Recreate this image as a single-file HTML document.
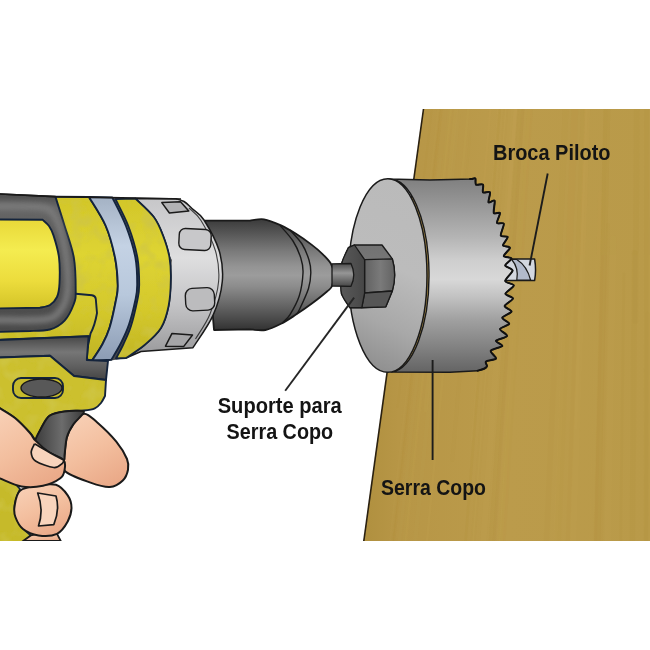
<!DOCTYPE html>
<html lang="pt"><head><meta charset="utf-8"><title>Serra Copo</title>
<style>html,body{margin:0;padding:0;background:#fff;width:650px;height:650px;overflow:hidden}svg{display:block}</style></head>
<body>
<svg width="650" height="650" viewBox="0 0 650 650">
<defs>
<linearGradient id="wood" x1="0" y1="0" x2="1" y2="0">
 <stop offset="0" stop-color="#b0903f"/><stop offset="0.12" stop-color="#b79646"/><stop offset="0.5" stop-color="#bb9b4b"/><stop offset="1" stop-color="#b99a49"/>
</linearGradient>
<linearGradient id="cyl" x1="0" y1="179" x2="0" y2="372" gradientUnits="userSpaceOnUse">
 <stop offset="0" stop-color="#808080"/><stop offset="0.14" stop-color="#989898"/><stop offset="0.3" stop-color="#b4b4b4"/><stop offset="0.42" stop-color="#cecece"/><stop offset="0.52" stop-color="#d8d8d8"/><stop offset="0.61" stop-color="#c2c2c2"/><stop offset="0.73" stop-color="#a0a0a0"/><stop offset="0.87" stop-color="#828282"/><stop offset="1" stop-color="#646464"/>
</linearGradient>
<linearGradient id="face" x1="430" y1="190" x2="350" y2="360" gradientUnits="userSpaceOnUse">
 <stop offset="0" stop-color="#bababa"/><stop offset="0.45" stop-color="#bcbcbc"/><stop offset="0.75" stop-color="#a8a8a8"/><stop offset="1" stop-color="#8e8e8e"/>
</linearGradient>
<linearGradient id="chuck" x1="0" y1="220" x2="0" y2="331" gradientUnits="userSpaceOnUse">
 <stop offset="0" stop-color="#3c3c3c"/><stop offset="0.12" stop-color="#565656"/><stop offset="0.28" stop-color="#7a7a7a"/><stop offset="0.42" stop-color="#949494"/><stop offset="0.5" stop-color="#9c9c9c"/><stop offset="0.6" stop-color="#8c8c8c"/><stop offset="0.75" stop-color="#6a6a6a"/><stop offset="0.9" stop-color="#484848"/><stop offset="1" stop-color="#303030"/>
</linearGradient>
<linearGradient id="shaft" x1="0" y1="263" x2="0" y2="287" gradientUnits="userSpaceOnUse">
 <stop offset="0" stop-color="#4a4a4a"/><stop offset="0.42" stop-color="#969696"/><stop offset="1" stop-color="#444"/>
</linearGradient>
<linearGradient id="collar" x1="0" y1="197" x2="0" y2="350" gradientUnits="userSpaceOnUse">
 <stop offset="0" stop-color="#c6c6c8"/><stop offset="0.4" stop-color="#dededf"/><stop offset="0.7" stop-color="#c4c4c6"/><stop offset="1" stop-color="#9e9ea0"/>
</linearGradient>
<linearGradient id="band" x1="0" y1="197" x2="0" y2="360" gradientUnits="userSpaceOnUse">
 <stop offset="0" stop-color="#a4b2c4"/><stop offset="0.3" stop-color="#c4d2e4"/><stop offset="0.6" stop-color="#b8c8dc"/><stop offset="1" stop-color="#8c9cb4"/>
</linearGradient>
<linearGradient id="ypanel" x1="0" y1="219" x2="0" y2="308" gradientUnits="userSpaceOnUse">
 <stop offset="0" stop-color="#e8d838"/><stop offset="0.35" stop-color="#f4ec50"/><stop offset="0.7" stop-color="#ecdc3c"/><stop offset="1" stop-color="#d4c428"/>
</linearGradient>
<filter id="mott" x="0" y="0" width="100%" height="100%"><feTurbulence type="fractalNoise" baseFrequency="0.07" numOctaves="2" seed="4" result="n"/><feColorMatrix in="n" type="matrix" values="0 0 0 0 0.62  0 0 0 0 0.56  0 0 0 0 0.06  0 0 0 2.2 -1.0" result="d"/><feComposite in="d" in2="SourceGraphic" operator="in" result="dd"/><feMerge><feMergeNode in="SourceGraphic"/><feMergeNode in="dd"/></feMerge></filter>
<linearGradient id="yband" x1="0" y1="197" x2="0" y2="360" gradientUnits="userSpaceOnUse">
 <stop offset="0" stop-color="#d2c62a"/><stop offset="0.35" stop-color="#ded433"/><stop offset="0.7" stop-color="#d4c82c"/><stop offset="1" stop-color="#c0b424"/>
</linearGradient>
<linearGradient id="frame" x1="0" y1="194" x2="0" y2="332" gradientUnits="userSpaceOnUse">
 <stop offset="0" stop-color="#4c4c4c"/><stop offset="0.1" stop-color="#686868"/><stop offset="0.3" stop-color="#5a5a5a"/><stop offset="1" stop-color="#4a4a4a"/>
</linearGradient>
<linearGradient id="dgray" x1="0" y1="337" x2="0" y2="380" gradientUnits="userSpaceOnUse">
 <stop offset="0" stop-color="#484848"/><stop offset="0.35" stop-color="#767676"/><stop offset="0.7" stop-color="#5e5e5e"/><stop offset="1" stop-color="#444"/>
</linearGradient>
<linearGradient id="trig" x1="35" y1="0" x2="84" y2="0" gradientUnits="userSpaceOnUse">
 <stop offset="0" stop-color="#3c3c3c"/><stop offset="0.55" stop-color="#6c6c6c"/><stop offset="1" stop-color="#3a3a3a"/>
</linearGradient>
<linearGradient id="skin" x1="0.2" y1="0" x2="0.7" y2="1">
 <stop offset="0" stop-color="#f8d0b6"/><stop offset="0.5" stop-color="#f3bf9f"/><stop offset="1" stop-color="#eaa988"/>
</linearGradient>
<linearGradient id="nutmid" x1="365" y1="0" x2="396" y2="0" gradientUnits="userSpaceOnUse">
 <stop offset="0" stop-color="#626262"/><stop offset="0.5" stop-color="#7a7a7a"/><stop offset="1" stop-color="#606060"/>
</linearGradient>
<linearGradient id="nutfront" x1="341" y1="0" x2="365" y2="0" gradientUnits="userSpaceOnUse">
 <stop offset="0" stop-color="#585858"/><stop offset="0.6" stop-color="#4e4e4e"/><stop offset="1" stop-color="#464646"/>
</linearGradient>
<linearGradient id="nut" x1="0" y1="245" x2="0" y2="308" gradientUnits="userSpaceOnUse">
 <stop offset="0" stop-color="#727272"/><stop offset="0.5" stop-color="#7a7a7a"/><stop offset="1" stop-color="#565656"/>
</linearGradient>
</defs>
<rect width="650" height="650" fill="#fff"/>
<polygon points="423.5,109 650,109 650,541 363.8,541" fill="url(#wood)"/>
<clipPath id="bclip"><polygon points="423.5,109 650,109 650,541 363.8,541"/></clipPath>
<g clip-path="url(#bclip)">
<line x1="498.3" y1="109" x2="471.9" y2="440" stroke="#d0b060" stroke-width="2.3" opacity="0.05" stroke-linecap="round"/>
<line x1="470.5" y1="131" x2="453.4" y2="314" stroke="#b08c38" stroke-width="2.0" opacity="0.04" stroke-linecap="round"/>
<line x1="451.1" y1="109" x2="405.9" y2="541" stroke="#d0b060" stroke-width="2.7" opacity="0.08" stroke-linecap="round"/>
<line x1="490.3" y1="109" x2="472.1" y2="325" stroke="#d0b060" stroke-width="2.3" opacity="0.08" stroke-linecap="round"/>
<line x1="566.8" y1="258" x2="555.3" y2="541" stroke="#d0b060" stroke-width="3.5" opacity="0.08" stroke-linecap="round"/>
<line x1="605.5" y1="109" x2="595.4" y2="541" stroke="#b08c38" stroke-width="4.1" opacity="0.07" stroke-linecap="round"/>
<line x1="441.2" y1="109" x2="393.7" y2="541" stroke="#b08c38" stroke-width="3.2" opacity="0.10" stroke-linecap="round"/>
<line x1="449.7" y1="109" x2="404.2" y2="541" stroke="#c8a858" stroke-width="3.8" opacity="0.05" stroke-linecap="round"/>
<line x1="600.4" y1="193" x2="591.7" y2="541" stroke="#c8a858" stroke-width="4.7" opacity="0.06" stroke-linecap="round"/>
<line x1="438.1" y1="109" x2="389.9" y2="541" stroke="#c8a858" stroke-width="2.0" opacity="0.07" stroke-linecap="round"/>
<line x1="574.8" y1="109" x2="557.7" y2="541" stroke="#b08c38" stroke-width="7.0" opacity="0.06" stroke-linecap="round"/>
<line x1="505.8" y1="109" x2="473.1" y2="541" stroke="#b08c38" stroke-width="4.9" opacity="0.04" stroke-linecap="round"/>
<line x1="514.2" y1="109" x2="483.4" y2="541" stroke="#d0b060" stroke-width="6.3" opacity="0.05" stroke-linecap="round"/>
<line x1="623.9" y1="274" x2="620.6" y2="541" stroke="#b08c38" stroke-width="3.0" opacity="0.11" stroke-linecap="round"/>
<line x1="441.4" y1="109" x2="394.1" y2="541" stroke="#a8862f" stroke-width="2.3" opacity="0.04" stroke-linecap="round"/>
<line x1="456.2" y1="109" x2="425.6" y2="410" stroke="#c8a858" stroke-width="4.4" opacity="0.11" stroke-linecap="round"/>
<line x1="608.0" y1="225" x2="601.4" y2="541" stroke="#b08c38" stroke-width="3.7" opacity="0.07" stroke-linecap="round"/>
<line x1="655.6" y1="109" x2="655.6" y2="437" stroke="#d0b060" stroke-width="3.9" opacity="0.06" stroke-linecap="round"/>
<line x1="440.4" y1="159" x2="399.4" y2="541" stroke="#d0b060" stroke-width="3.5" opacity="0.04" stroke-linecap="round"/>
<line x1="647.4" y1="314" x2="647.1" y2="541" stroke="#b08c38" stroke-width="4.8" opacity="0.05" stroke-linecap="round"/>
<line x1="442.1" y1="109" x2="394.9" y2="541" stroke="#c8a858" stroke-width="2.1" opacity="0.09" stroke-linecap="round"/>
<line x1="646.6" y1="109" x2="645.8" y2="541" stroke="#a8862f" stroke-width="4.4" opacity="0.09" stroke-linecap="round"/>
<line x1="586.3" y1="109" x2="575.7" y2="428" stroke="#c8a858" stroke-width="2.9" opacity="0.10" stroke-linecap="round"/>
<line x1="499.7" y1="109" x2="465.6" y2="541" stroke="#a8862f" stroke-width="2.7" opacity="0.10" stroke-linecap="round"/>
<line x1="505.8" y1="109" x2="473.1" y2="541" stroke="#d0b060" stroke-width="1.7" opacity="0.10" stroke-linecap="round"/>
<line x1="527.5" y1="109" x2="499.7" y2="541" stroke="#c8a858" stroke-width="6.7" opacity="0.11" stroke-linecap="round"/>
<line x1="468.3" y1="109" x2="427.0" y2="541" stroke="#d0b060" stroke-width="2.6" opacity="0.07" stroke-linecap="round"/>
<line x1="636.8" y1="109" x2="635.4" y2="321" stroke="#a8862f" stroke-width="5.8" opacity="0.07" stroke-linecap="round"/>
<line x1="515.4" y1="109" x2="501.4" y2="307" stroke="#d0b060" stroke-width="3.7" opacity="0.09" stroke-linecap="round"/>
<line x1="634.6" y1="253" x2="632.4" y2="541" stroke="#a8862f" stroke-width="5.9" opacity="0.08" stroke-linecap="round"/>
<line x1="458.7" y1="109" x2="415.2" y2="541" stroke="#d0b060" stroke-width="4.5" opacity="0.04" stroke-linecap="round"/>
<line x1="524.3" y1="109" x2="495.8" y2="541" stroke="#a8862f" stroke-width="6.3" opacity="0.04" stroke-linecap="round"/>
<line x1="467.5" y1="287" x2="452.3" y2="460" stroke="#a8862f" stroke-width="3.8" opacity="0.04" stroke-linecap="round"/>
<line x1="521.2" y1="109" x2="492.0" y2="541" stroke="#a8862f" stroke-width="6.5" opacity="0.08" stroke-linecap="round"/>
<line x1="565.6" y1="109" x2="546.5" y2="541" stroke="#a8862f" stroke-width="5.8" opacity="0.05" stroke-linecap="round"/>
<line x1="583.1" y1="109" x2="567.9" y2="541" stroke="#b08c38" stroke-width="4.4" opacity="0.09" stroke-linecap="round"/>
<line x1="431.8" y1="109" x2="397.6" y2="407" stroke="#b08c38" stroke-width="2.0" opacity="0.08" stroke-linecap="round"/>
<line x1="652.3" y1="218" x2="652.3" y2="541" stroke="#a8862f" stroke-width="4.8" opacity="0.09" stroke-linecap="round"/>
<line x1="587.1" y1="109" x2="572.8" y2="541" stroke="#c8a858" stroke-width="6.3" opacity="0.10" stroke-linecap="round"/>
<line x1="520.3" y1="109" x2="490.8" y2="541" stroke="#c8a858" stroke-width="3.7" opacity="0.05" stroke-linecap="round"/>
<line x1="607.1" y1="109" x2="597.3" y2="541" stroke="#a8862f" stroke-width="6.4" opacity="0.11" stroke-linecap="round"/>
<line x1="650.6" y1="109" x2="650.6" y2="541" stroke="#d0b060" stroke-width="2.7" opacity="0.07" stroke-linecap="round"/>
<line x1="658.3" y1="109" x2="658.3" y2="305" stroke="#b08c38" stroke-width="3.7" opacity="0.05" stroke-linecap="round"/>
<line x1="530.2" y1="109" x2="503.0" y2="541" stroke="#b08c38" stroke-width="5.4" opacity="0.06" stroke-linecap="round"/>
<line x1="651.8" y1="109" x2="651.8" y2="541" stroke="#c8a858" stroke-width="2.1" opacity="0.06" stroke-linecap="round"/>
<line x1="613.2" y1="238" x2="607.7" y2="541" stroke="#c8a858" stroke-width="6.2" opacity="0.07" stroke-linecap="round"/>
</g>
<line x1="423.5" y1="109" x2="363.8" y2="541" stroke="#2a2010" stroke-width="1.6"/>
<path d="M500,259 L534.6,259 Q536.5,270 534.6,280.6 L500,280.6 Z" fill="#d3d7df" stroke="#1a1a1a" stroke-width="1.5" stroke-linejoin="round"/>
<path d="M511.7,259.5 Q519,268 516.8,280 L530.6,280 Q527,266 516.8,259.5 Z" fill="#b2bacb" stroke="#1a1a1a" stroke-width="1.2" stroke-linejoin="round"/>
<path d="M388,179 L430,180 L472,179 C472.5,178.9 474.9,177.8 475.4,178.5 C475.9,179.2 475.0,183.8 476.0,184.6 C477.0,185.4 482.1,183.6 483.0,184.6 C483.9,185.6 482.1,191.3 483.0,192.3 C483.9,193.3 489.3,191.0 490.0,192.3 C490.7,193.6 487.9,201.2 488.5,202.3 C489.1,203.4 493.9,199.4 494.6,200.8 C495.3,202.2 493.1,211.4 493.8,213.0 C494.5,214.6 499.6,211.7 500.0,213.0 C500.4,214.3 496.5,221.6 497.0,223.0 C497.5,224.4 503.3,222.1 503.8,223.8 C504.3,225.5 500.3,233.6 500.8,235.4 C501.3,237.2 507.4,235.7 507.7,237.0 C508.0,238.3 502.7,244.0 503.0,245.4 C503.3,246.8 509.9,246.3 510.0,247.7 C510.1,249.1 503.6,254.6 503.8,256.0 C504.0,257.4 511.3,257.2 511.5,258.5 C511.7,259.8 505.1,263.8 505.2,265.4 C505.3,267.0 512.6,268.4 512.6,270.5 C512.6,272.6 505.0,279.0 505.2,281.0 C505.4,283.0 513.8,283.7 513.8,285.4 C513.8,287.1 505.5,292.1 505.4,293.8 C505.3,295.5 513.1,296.9 513.0,298.5 C512.9,300.1 504.8,304.3 504.6,306.0 C504.4,307.7 511.8,309.9 511.5,311.5 C511.2,313.1 502.6,316.1 502.3,317.7 C502.0,319.3 509.5,322.3 509.2,323.8 C508.9,325.3 500.3,327.4 500.0,329.0 C499.7,330.6 507.5,334.4 507.0,336.0 C506.5,337.6 496.6,339.5 496.0,340.8 C495.4,342.1 503.0,344.7 502.3,346.0 C501.6,347.3 491.6,349.1 490.8,350.8 C490.0,352.5 496.6,357.1 496.0,358.5 C495.4,359.9 487.2,360.5 486.0,361.5 C484.8,362.5 487.2,365.1 487.0,366.0 C486.8,366.9 485.8,367.9 484.6,368.5 C483.4,369.1 478.6,370.5 477.7,370.8 L450,372.3 L391,372 A39.5,96.5 0 0 0 388,179 Z" fill="url(#cyl)" stroke="#1a1a1a" stroke-width="1.4" stroke-linejoin="round"/>
<path d="M470,179 L472,179 C472.5,178.9 474.9,177.8 475.4,178.5 C475.9,179.2 475.0,183.8 476.0,184.6 C477.0,185.4 482.1,183.6 483.0,184.6 C483.9,185.6 482.1,191.3 483.0,192.3 C483.9,193.3 489.3,191.0 490.0,192.3 C490.7,193.6 487.9,201.2 488.5,202.3 C489.1,203.4 493.9,199.4 494.6,200.8 C495.3,202.2 493.1,211.4 493.8,213.0 C494.5,214.6 499.6,211.7 500.0,213.0 C500.4,214.3 496.5,221.6 497.0,223.0 C497.5,224.4 503.3,222.1 503.8,223.8 C504.3,225.5 500.3,233.6 500.8,235.4 C501.3,237.2 507.4,235.7 507.7,237.0 C508.0,238.3 502.7,244.0 503.0,245.4 C503.3,246.8 509.9,246.3 510.0,247.7 C510.1,249.1 503.6,254.6 503.8,256.0 C504.0,257.4 511.3,257.2 511.5,258.5 C511.7,259.8 505.1,263.8 505.2,265.4 C505.3,267.0 512.6,268.4 512.6,270.5 C512.6,272.6 505.0,279.0 505.2,281.0 C505.4,283.0 513.8,283.7 513.8,285.4 C513.8,287.1 505.5,292.1 505.4,293.8 C505.3,295.5 513.1,296.9 513.0,298.5 C512.9,300.1 504.8,304.3 504.6,306.0 C504.4,307.7 511.8,309.9 511.5,311.5 C511.2,313.1 502.6,316.1 502.3,317.7 C502.0,319.3 509.5,322.3 509.2,323.8 C508.9,325.3 500.3,327.4 500.0,329.0 C499.7,330.6 507.5,334.4 507.0,336.0 C506.5,337.6 496.6,339.5 496.0,340.8 C495.4,342.1 503.0,344.7 502.3,346.0 C501.6,347.3 491.6,349.1 490.8,350.8 C490.0,352.5 496.6,357.1 496.0,358.5 C495.4,359.9 487.2,360.5 486.0,361.5 C484.8,362.5 487.2,365.1 487.0,366.0 C486.8,366.9 485.8,367.9 484.6,368.5 C483.4,369.1 478.6,370.5 477.7,370.8" fill="none" stroke="#111" stroke-width="2" stroke-linejoin="round" stroke-linecap="round"/>
<ellipse cx="387.8" cy="275.5" rx="39.2" ry="96.8" fill="url(#face)" stroke="#1a1a1a" stroke-width="1.5"/>
<path d="M205,220.6 L250,220.6 C252.3,220.4 258.8,218.5 264.0,219.3 C269.2,220.1 275.7,223.0 281.0,225.4 C286.3,227.8 290.9,230.6 296.0,233.8 C301.1,237.0 307.1,241.3 311.5,244.6 C315.9,247.9 319.1,250.7 322.3,253.8 C325.5,256.9 328.9,260.2 330.8,263.5 C332.7,266.8 333.6,269.8 333.8,273.5 C334.0,277.2 333.1,283.0 332.0,286.0 C330.9,289.0 330.4,288.5 327.0,291.5 C323.6,294.5 316.7,299.9 311.5,303.8 C306.3,307.7 301.1,311.3 296.0,314.6 C290.9,317.9 286.1,321.2 281.0,323.8 C275.9,326.4 270.6,329.1 265.4,330.0 C260.2,330.9 252.6,329.5 250.0,329.4 L214,330 Z" fill="url(#chuck)" stroke="#1a1a1a" stroke-width="1.8" stroke-linejoin="round"/>
<path d="M280.0,225.4 C282.2,228.0 289.5,235.6 293.0,241.0 C296.5,246.4 299.1,252.7 300.8,258.0 C302.5,263.3 303.3,266.7 303.0,273.0 C302.7,279.3 301.4,289.1 299.2,296.0 C297.0,302.9 292.7,310.2 290.0,314.6 C287.3,319.0 284.2,321.0 283.0,322.3 M290.0,230.0 C292.0,232.3 298.8,239.0 302.0,244.0 C305.2,249.0 307.5,255.2 309.0,260.0 C310.5,264.8 310.9,268.2 310.8,273.0 C310.7,277.8 310.4,282.3 308.5,288.5 C306.6,294.7 301.3,305.6 299.2,310.0 C297.1,314.4 296.5,313.8 296.0,314.6" fill="none" stroke="#1a1a1a" stroke-width="1.4"/>
<path d="M354.5,245 L382,245 L392.3,258.8 Q397,275 392.3,291 L385.8,306.8 L361.8,307.7 L349.8,307.7 L341.5,293.8 L342,262.5 L348.4,247.7 Z" fill="url(#nut)" stroke="#1a1a1a" stroke-width="1.4" stroke-linejoin="round"/>
<path d="M364.6,259.7 L392.3,258.8 Q397,275 392.3,291 L364.6,293 Z" fill="url(#nutmid)" stroke="#1a1a1a" stroke-width="1.3" stroke-linejoin="round"/>
<path d="M364.6,293 L392.3,291 L385.8,306.8 L361.8,307.7 Z" fill="#565656" stroke="#1a1a1a" stroke-width="1.3" stroke-linejoin="round"/>
<path d="M354.5,245 L348.4,247.7 C347.3,250.2 343.2,257.4 342.0,262.5 C340.8,267.6 341.1,272.8 341.0,278.0 C340.9,283.2 340.0,288.9 341.5,293.8 C343.0,298.8 348.4,305.4 349.8,307.7 L361.8,307.7 L364.6,293 L364.6,259.7 Z" fill="url(#nutfront)" stroke="#1a1a1a" stroke-width="1.3" stroke-linejoin="round"/>
<path d="M332,263.8 L351,263.5 Q356.5,275 351,286.3 L332,286 Z" fill="url(#shaft)" stroke="#1a1a1a" stroke-width="1.3" stroke-linejoin="round"/>
<path d="M135.4,198.5 L176,198.8 C177.3,199.2 181.3,199.9 184.0,201.5 C186.7,203.1 188.7,205.4 192.0,208.5 C195.3,211.6 199.5,212.9 204.0,220.0 C208.5,227.1 216.1,240.6 219.2,250.8 C222.2,261.1 223.3,270.7 222.3,281.5 C221.3,292.3 217.9,304.4 213.0,315.4 C208.1,326.4 196.3,342.3 193.0,347.7 L141,351.5 L126,358 C129.1,355.8 138.8,350.0 144.6,345.0 C150.4,340.0 157.0,334.5 161.0,328.0 C165.0,321.5 167.0,314.0 168.6,306.0 C170.2,298.0 170.7,288.1 170.8,280.0 C171.0,271.9 170.8,264.9 169.5,257.5 C168.2,250.1 165.6,242.2 163.0,235.4 C160.4,228.7 158.4,223.2 153.8,217.0 C149.2,210.8 138.5,201.6 135.4,198.5 Z" fill="url(#collar)" stroke="#1a1a1a" stroke-width="1.5" stroke-linejoin="round"/>
<path d="M189.0,208.0 C191.0,210.1 196.6,213.3 201.0,220.5 C205.4,227.7 212.6,240.8 215.5,251.0 C218.4,261.2 219.5,271.0 218.6,281.5 C217.7,292.0 213.8,304.4 210.0,314.0 C206.2,323.6 197.9,334.8 195.5,339.0" fill="none" stroke="#1a1a1a" stroke-width="1.1" opacity="0.8"/>
<path d="M161.8,202.6 L180.5,201.8 L188.8,211 L169.4,213 Z" fill="#b2b2b4" stroke="#1a1a1a" stroke-width="1.5" stroke-linejoin="round"/>
<rect x="179" y="229" width="32" height="21" rx="6" fill="#c8c8ca" stroke="#1a1a1a" stroke-width="1.4" transform="rotate(3 195 240)"/>
<rect x="185.5" y="288" width="29" height="22.5" rx="7" fill="#bcbcbe" stroke="#1a1a1a" stroke-width="1.4" transform="rotate(-3 200 299)"/>
<path d="M172,333.4 L192.5,335 L183.6,346.6 L165.5,346.2 Z" fill="#a6a6a8" stroke="#1a1a1a" stroke-width="1.5" stroke-linejoin="round"/>
<path d="M-5,194 L55.4,196.6 L135.4,198.5 L172,260 L165,320 L126,358 L108,361 L106,380 L-5,380 Z" fill="url(#frame)"/>
<path d="M55.4,196.6 C56.9,201.5 61.5,215.8 64.6,226.0 C67.7,236.2 71.9,246.7 73.8,257.5 C75.7,268.3 75.7,283.1 75.7,290.8 C75.7,298.6 75.7,299.0 73.8,304.0 C71.9,309.0 68.6,316.4 64.6,320.6 C60.6,324.9 55.6,327.8 49.8,329.5 C44.0,331.2 33.3,330.8 30.0,331.0 L-5,332 L-5,340 L88.6,336.3 L86.8,359.4 L92,360.6 C93.7,358.0 99.1,350.4 102.0,345.0 C104.9,339.6 107.2,335.5 109.5,328.0 C111.8,320.5 114.6,307.2 116.0,300.0 C117.4,292.8 118.0,292.1 117.8,285.0 C117.6,277.9 117.0,267.3 115.0,257.5 C113.0,247.7 110.1,236.1 105.8,226.0 C101.5,215.9 91.8,201.8 89.0,197.0 Z" fill="url(#yband)" filter="url(#mott)"/>
<path d="M55.4,196.6 C56.9,201.5 61.5,215.8 64.6,226.0 C67.7,236.2 71.9,246.7 73.8,257.5 C75.7,268.3 75.7,283.1 75.7,290.8 C75.7,298.6 75.7,299.0 73.8,304.0 C71.9,309.0 68.6,316.4 64.6,320.6 C60.6,324.9 55.6,327.8 49.8,329.5 C44.0,331.2 33.3,330.8 30.0,331.0 L-5,332 L-5,340 L88.6,336.3 L86.8,359.4 L92,360.6 C93.7,358.0 99.1,350.4 102.0,345.0 C104.9,339.6 107.2,335.5 109.5,328.0 C111.8,320.5 114.6,307.2 116.0,300.0 C117.4,292.8 118.0,292.1 117.8,285.0 C117.6,277.9 117.0,267.3 115.0,257.5 C113.0,247.7 110.1,236.1 105.8,226.0 C101.5,215.9 91.8,201.8 89.0,197.0 Z" fill="none" stroke="#14243c" stroke-width="1.9" stroke-linejoin="round"/>
<path d="M115.5,199.2 C117.6,203.7 124.7,216.3 128.3,226.0 C132.0,235.7 135.6,247.7 137.4,257.5 C139.2,267.3 139.2,277.9 139.2,285.0 C139.2,292.1 138.8,293.2 137.4,300.0 C136.0,306.8 133.3,318.7 131.0,326.0 C128.7,333.3 126.0,338.6 123.5,344.0 C121.0,349.4 117.2,356.1 116.0,358.5 L126,358 C129.1,355.8 138.8,350.0 144.6,345.0 C150.4,340.0 157.0,334.5 161.0,328.0 C165.0,321.5 167.0,314.0 168.6,306.0 C170.2,298.0 170.7,288.1 170.8,280.0 C171.0,271.9 170.8,264.9 169.5,257.5 C168.2,250.1 165.6,242.2 163.0,235.4 C160.4,228.7 158.4,223.2 153.8,217.0 C149.2,210.8 138.5,201.6 135.4,198.5 Z" fill="url(#yband)" filter="url(#mott)"/>
<path d="M115.5,199.2 C117.6,203.7 124.7,216.3 128.3,226.0 C132.0,235.7 135.6,247.7 137.4,257.5 C139.2,267.3 139.2,277.9 139.2,285.0 C139.2,292.1 138.8,293.2 137.4,300.0 C136.0,306.8 133.3,318.7 131.0,326.0 C128.7,333.3 126.0,338.6 123.5,344.0 C121.0,349.4 117.2,356.1 116.0,358.5 L126,358 C129.1,355.8 138.8,350.0 144.6,345.0 C150.4,340.0 157.0,334.5 161.0,328.0 C165.0,321.5 167.0,314.0 168.6,306.0 C170.2,298.0 170.7,288.1 170.8,280.0 C171.0,271.9 170.8,264.9 169.5,257.5 C168.2,250.1 165.6,242.2 163.0,235.4 C160.4,228.7 158.4,223.2 153.8,217.0 C149.2,210.8 138.5,201.6 135.4,198.5 Z" fill="none" stroke="#14243c" stroke-width="1.8" stroke-linejoin="round"/>
<path d="M89.0,197.0 C91.8,201.8 101.5,215.9 105.8,226.0 C110.1,236.1 113.0,247.7 115.0,257.5 C117.0,267.3 117.6,277.9 117.8,285.0 C118.0,292.1 117.4,292.8 116.0,300.0 C114.6,307.2 111.8,320.5 109.5,328.0 C107.2,335.5 104.9,339.6 102.0,345.0 C99.1,350.4 93.7,358.0 92.0,360.6 L111.4,359.7 C113.0,356.9 118.1,348.9 121.0,343.0 C123.9,337.1 126.6,331.8 129.0,324.6 C131.4,317.4 134.0,306.6 135.4,300.0 C136.8,293.4 137.2,292.1 137.2,285.0 C137.2,277.9 137.3,267.3 135.4,257.5 C133.5,247.7 129.8,236.0 126.0,226.0 C122.2,216.0 114.6,202.2 112.3,197.5 Z" fill="url(#band)" stroke="#14243c" stroke-width="1.9" stroke-linejoin="round"/>
<path d="M-5,193.8 L55.4,196.6" fill="none" stroke="#1a1a1a" stroke-width="1.6"/>
<filter id="bl3" x="-20%" y="-20%" width="140%" height="140%"><feGaussianBlur stdDeviation="2.5"/></filter>
<path d="M-5.0,206.0 C2.5,206.2 30.2,205.5 40.0,207.0 C49.8,208.5 50.2,209.5 54.0,215.0 C57.8,220.5 60.8,230.8 63.0,240.0 C65.2,249.2 66.8,260.8 67.5,270.0 C68.2,279.2 68.4,288.0 67.0,295.0 C65.6,302.0 62.8,307.9 59.0,312.0 C55.2,316.1 54.7,318.2 44.0,319.5 C33.3,320.8 3.2,319.9 -5.0,320.0" fill="none" stroke="#7c7c7c" stroke-width="7" filter="url(#bl3)" opacity="0.9"/>
<path d="M-5,219.5 L42.5,219.7 C43.6,220.8 47.2,223.4 49.0,226.0 C50.8,228.6 51.8,230.2 53.5,235.4 C55.2,240.7 58.0,249.5 59.0,257.5 C60.0,265.5 59.8,276.8 59.5,283.4 C59.2,290.0 58.6,293.4 57.0,297.0 C55.4,300.6 52.8,303.2 50.0,305.0 C47.2,306.8 41.7,307.2 40.0,307.7 L-5,308.5 Z" fill="url(#ypanel)" stroke="#14243c" stroke-width="1.9"/>
<path d="M75.7,293.8 L92,295.3 Q95.5,295.8 95.8,299 L97,313 Q95,325 90.5,333.5 L87.5,348" fill="none" stroke="#14243c" stroke-width="1.9"/>
<path d="M-5,193.8 L55.4,196.6 L135,198 L181,199" fill="none" stroke="#1a1a1a" stroke-width="1.6"/>
<path d="M-5,340.2 L88.6,336.3 L86.8,360 L108,361 L106,380 L74,376 L50,355.7 L-5,357.7 Z" fill="url(#dgray)" stroke="#14243c" stroke-width="1.9" stroke-linejoin="round"/>
<path d="M-5,357.7 L50,355.7 L74,376 L106,380 L105,396 C104.3,397.2 102.7,400.9 101.0,403.0 C99.3,405.1 97.6,407.1 94.8,408.3 C92.0,409.6 89.0,410.0 84.0,410.5 C79.0,411.0 70.3,410.6 64.6,411.5 C58.8,412.4 53.3,413.3 49.5,415.8 C45.7,418.3 44.3,422.5 42.0,426.6 C39.7,430.7 36.6,438.3 35.5,440.6 C34.6,439.3 33.4,436.8 30.0,433.0 C26.6,429.2 20.0,422.1 15.0,418.0 C10.0,413.9 3.3,410.3 0.0,408.3 C-3.3,406.3 -4.2,406.4 -5.0,406.0 Z" fill="#ccc02e" filter="url(#mott)"/>
<path d="M-5,357.7 L50,355.7 L74,376 L106,380 L105,396 C104.3,397.2 102.7,400.9 101.0,403.0 C99.3,405.1 97.6,407.1 94.8,408.3 C92.0,409.6 89.0,410.0 84.0,410.5 C79.0,411.0 70.3,410.6 64.6,411.5 C58.8,412.4 53.3,413.3 49.5,415.8 C45.7,418.3 44.3,422.5 42.0,426.6 C39.7,430.7 36.6,438.3 35.5,440.6 C34.6,439.3 33.4,436.8 30.0,433.0 C26.6,429.2 20.0,422.1 15.0,418.0 C10.0,413.9 3.3,410.3 0.0,408.3 C-3.3,406.3 -4.2,406.4 -5.0,406.0 Z" fill="none" stroke="#14243c" stroke-width="1.9" stroke-linejoin="round"/>
<rect x="13" y="378" width="50" height="20" rx="8" fill="#c6ba2c" stroke="#14243c" stroke-width="1.9"/>
<ellipse cx="41.5" cy="388" rx="20.5" ry="9" fill="#585858" stroke="#1a1a1a" stroke-width="1.4"/>
<path d="M-5,470 L10,478 L20,489 C19.1,491.8 14.6,500.1 14.6,506.0 C14.6,511.9 17.3,519.7 20.0,524.6 C22.7,529.5 29.0,533.6 30.8,535.4 L23,545 L-5,545 Z" fill="#c6ba2c" filter="url(#mott)"/>
<path d="M-5,470 L10,478 L20,489 C19.1,491.8 14.6,500.1 14.6,506.0 C14.6,511.9 17.3,519.7 20.0,524.6 C22.7,529.5 29.0,533.6 30.8,535.4 L23,545 L-5,545 Z" fill="none" stroke="#14243c" stroke-width="1.8" stroke-linejoin="round"/>
<path d="M84.0,413.7 C88.0,413.3 91.6,417.6 97.0,422.3 C102.4,427.0 111.3,435.6 116.3,441.7 C121.3,447.8 125.0,454.3 127.0,459.0 C128.9,463.7 128.7,466.1 128.0,469.7 C127.3,473.3 125.8,477.6 122.8,480.5 C119.8,483.4 115.2,486.6 109.8,487.0 C104.4,487.4 98.0,485.3 90.5,482.6 C83.0,479.9 68.9,475.5 64.6,470.8 C60.3,466.1 64.2,460.2 64.6,454.6 C65.0,449.0 65.4,442.4 66.8,437.4 C68.2,432.4 70.3,428.4 73.2,424.5 C76.1,420.6 80.0,414.1 84.0,413.7 Z" fill="url(#skin)" stroke="#1a1a1a" stroke-width="2" stroke-linejoin="round"/>
<path d="M49.5,415.8 C52.1,414.0 60.6,412.0 64.6,411.5 C68.6,411.0 83.0,410.0 84.0,411.5 C85.0,413.0 75.2,421.5 73.2,424.5 C71.2,427.5 67.8,433.9 66.8,437.4 C65.8,440.9 65.0,452.0 64.6,454.6 C64.2,457.2 65.3,460.2 63.5,460.0 C61.7,459.8 52.9,454.4 49.5,452.5 C46.1,450.6 35.4,446.8 34.5,443.8 C33.6,440.8 40.2,429.9 42.0,426.6 C43.8,423.3 46.9,417.6 49.5,415.8 Z" fill="url(#trig)" stroke="#1a1a1a" stroke-width="2" stroke-linejoin="round"/>
<path d="M30.8,535.4 Q45,531 57,533.8 L60.8,541 L23,541 Z" fill="url(#skin)" stroke="#1a1a1a" stroke-width="1.8"/>
<path d="M20.0,490.8 C23.9,487.4 32.0,486.5 38.0,485.5 C44.0,484.5 51.0,483.2 56.0,484.8 C61.0,486.4 65.1,491.6 67.7,495.4 C70.3,499.2 71.5,503.3 71.5,507.7 C71.5,512.0 70.1,517.1 67.7,521.5 C65.3,525.9 61.9,531.5 57.0,533.8 C52.1,536.1 44.2,536.2 38.5,535.4 C32.8,534.6 26.9,532.1 23.0,529.0 C19.1,525.9 16.8,520.8 15.4,517.0 C14.0,513.2 13.8,510.4 14.6,506.0 C15.4,501.6 16.1,494.2 20.0,490.8 Z" fill="url(#skin)" stroke="#1a1a1a" stroke-width="2" stroke-linejoin="round"/>
<path d="M37.7,493 L56,496 Q60,510 53.8,524.6 L38.5,526 Q44,510 37.7,493 Z" fill="#f8d4bc" stroke="#1a1a1a" stroke-width="1.7" stroke-linejoin="round"/>
<path d="M-6.0,405.0 C-5.0,405.6 -3.5,406.1 0.0,408.3 C3.5,410.5 10.0,413.9 15.0,418.0 C20.0,422.1 26.6,429.2 30.0,433.0 C33.4,436.8 32.2,437.4 35.5,440.6 C38.8,443.9 44.8,449.3 49.5,452.5 C54.2,455.7 61.0,457.1 63.5,460.0 C66.0,462.9 65.1,466.6 64.6,469.7 C64.1,472.8 63.9,475.6 60.3,478.3 C56.7,481.0 49.5,484.4 43.0,485.8 C36.5,487.2 28.7,487.7 21.5,486.5 C14.3,485.3 4.6,480.2 0.0,478.5 C-4.6,476.8 -5.0,476.4 -6.0,476.0 Z" fill="url(#skin)" stroke="#1a1a1a" stroke-width="2" stroke-linejoin="round"/>
<path d="M34.5,443.8 C34.0,445.2 31.0,449.6 31.2,452.5 C31.4,455.4 31.7,458.5 35.5,461.0 C39.3,463.5 49.3,467.1 53.8,467.5 C58.3,467.9 60.9,464.4 62.5,463.2 C64.1,461.9 63.3,460.5 63.5,460.0 C61.2,458.8 54.3,455.2 49.5,452.5 C44.7,449.8 37.0,445.2 34.5,443.8" fill="#f8d4bc" stroke="#1a1a1a" stroke-width="1.7" stroke-linejoin="round"/>
<rect x="0" y="541" width="362" height="109" fill="#fff"/>
<line x1="354.1" y1="297.6" x2="285.2" y2="390.7" stroke="#262626" stroke-width="1.9"/>
<line x1="547.7" y1="173.5" x2="529.6" y2="265.5" stroke="#1c1c1c" stroke-width="1.9"/>
<line x1="432.6" y1="360" x2="432.6" y2="460" stroke="#1c1c1c" stroke-width="1.9"/>
<filter id="idf" x="-5%" y="-20%" width="110%" height="140%"><feOffset dx="0" dy="0"/></filter>
<g filter="url(#idf)">
<text x="493" y="160" font-size="22" textLength="117.5" lengthAdjust="spacingAndGlyphs" font-family="'Liberation Sans', Arial, sans-serif" font-weight="700" fill="#141414">Broca Piloto</text>
<text x="217.7" y="412.7" font-size="22" textLength="124" lengthAdjust="spacingAndGlyphs" font-family="'Liberation Sans', Arial, sans-serif" font-weight="700" fill="#141414">Suporte para</text>
<text x="226.6" y="438.6" font-size="22" textLength="106.5" lengthAdjust="spacingAndGlyphs" font-family="'Liberation Sans', Arial, sans-serif" font-weight="700" fill="#141414">Serra Copo</text>
<text x="381" y="494.6" font-size="22" textLength="105" lengthAdjust="spacingAndGlyphs" font-family="'Liberation Sans', Arial, sans-serif" font-weight="700" fill="#141414">Serra Copo</text>
</g>
</svg>
</body></html>
